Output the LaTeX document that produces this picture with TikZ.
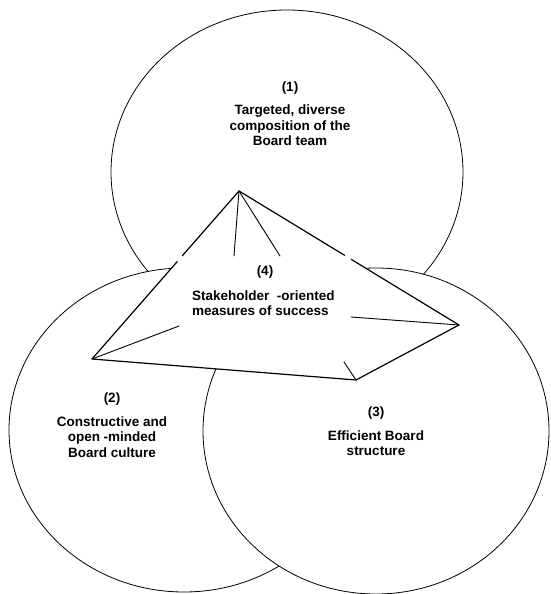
\documentclass[tikz,border=0pt]{standalone}
\usepackage{fontspec}
\setmainfont{Liberation Sans}
\usetikzlibrary{shapes.geometric,calc}
\begin{document}
\begin{tikzpicture}[x=1pt,y=-1pt,
  ring/.style={ellipse, draw, fill=white, line width=0.8pt, inner sep=0pt},
  ridge/.style={line width=1.2pt, line cap=round, line join=round},
  hidden/.style={line width=0.9pt, line cap=round},
  lbl/.style={font=\bfseries\fontsize{13.5}{15.5}\selectfont, align=center, inner sep=0pt}]
\useasboundingbox (0,0) rectangle (550,594);

% three overlapping areas
\node[ring, minimum width=352pt, minimum height=324pt] (c1) at (287,172) {};
\node[ring, minimum width=350pt, minimum height=324pt] (c2) at (184,430) {};
\node[ring, minimum width=346pt, minimum height=326pt] (c3) at (376,431) {};

% pyramid corners
\coordinate (apex) at (239,191);
\coordinate (pl) at (92,359);
\coordinate (pr) at (459,325);
\coordinate (pf) at (356,380);

% hidden-edge stubs
\coordinate (s1) at (234,256);
\coordinate (s2) at (280,256);
\coordinate (s3) at (179,326);
\coordinate (s4) at (351,317);
\coordinate (s5) at (344,362);

\fill[white] (apex) -- (pl) -- (pf) -- (pr) -- cycle;
\draw[ridge] (apex) -- ($(apex)!0.385!(pl)$);
\draw[ridge] ($(apex)!0.42!(pl)$) -- (pl) -- (pf) -- (pr) -- ($(apex)!0.51!(pr)$);
\draw[ridge] ($(apex)!0.48!(pr)$) -- (apex);

\draw[hidden] (apex) -- (s1);
\draw[hidden] (apex) -- (s2);
\draw[hidden] (pl) -- (s3);
\draw[hidden] (pr) -- (s4);
\draw[hidden] (pf) -- (s5);

% labels
\node[lbl] (t1) at (290,113.5) {(1)\\[8pt]Targeted, diverse\\composition of the\\Board team};
\node[lbl] (t2) at (112,425) {(2)\\[8.5pt]Constructive and\\open -minded\\Board culture};
\node[lbl] (t3) at (376,431) {(3)\\[8.5pt]Efficient Board\\structure};
\node[lbl] (t4n) at (265,272) {(4)};
\node[lbl, align=left, anchor=west] (t4) at (192,303) {Stakeholder\ \ -oriented\\measures of success};
\end{tikzpicture}
\end{document}
